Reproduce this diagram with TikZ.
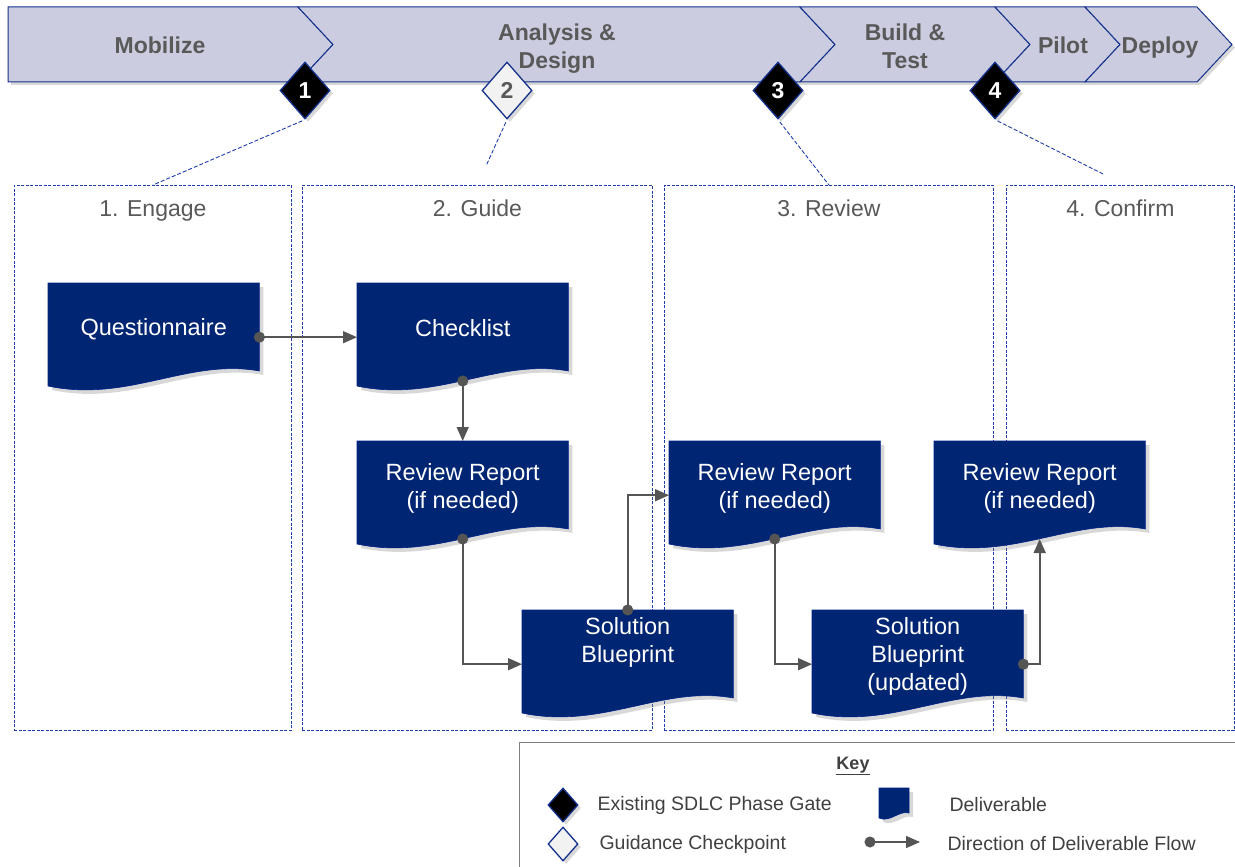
\documentclass[tikz,border=0pt]{standalone}
\usepackage{fontspec}
\setmainfont{Liberation Sans}
\usetikzlibrary{calc,shapes.geometric,arrows.meta,shadows}

\definecolor{chevfill}{RGB}{204,204,224}
\definecolor{navyline}{RGB}{20,50,140}
\definecolor{docblue}{RGB}{0,38,115}
\definecolor{dashblue}{RGB}{30,60,170}
\definecolor{txtgrey}{RGB}{89,89,89}
\definecolor{flowgrey}{RGB}{85,85,85}
\definecolor{keygrey}{RGB}{64,64,64}
\definecolor{ckfill}{RGB}{242,242,242}

\tikzset{
  shade/.style={drop shadow={shadow xshift=3pt,shadow yshift=-3pt,opacity=0.3}},
  chev/.style={fill=chevfill, draw=navyline, line width=1pt, shade},
  chevtext/.style={text=txtgrey, align=center, font=\fontsize{23}{28}\selectfont\bfseries},
  gate/.style={diamond, draw=navyline, line width=1.3pt, fill=black, text=white, inner sep=0pt,
    minimum width=50pt, minimum height=57pt, font=\fontsize{23}{23}\selectfont\bfseries, shade},
  checkpt/.style={gate, fill=ckfill, text=txtgrey},
  phasebox/.style={draw=dashblue, dash pattern=on 3pt off 1.5pt, line width=0.9pt,
    anchor=north west, inner sep=0pt, minimum height=545pt},
  phasetitle/.style={text=txtgrey, anchor=base, font=\fontsize{23}{26}\selectfont},
  link/.style={draw=dashblue, dash pattern=on 4pt off 2pt, line width=0.9pt, shorten <=3pt},
  docbox/.style={anchor=north west, inner sep=0pt, minimum width=211pt, minimum height=108pt},
  docfill/.style={fill=docblue, draw=docblue!85!blue, line width=0.6pt,
    drop shadow={shadow xshift=4pt,shadow yshift=-4pt,opacity=0.3}},
  doctext/.style={text=white, align=center, font=\fontsize{23.5}{28}\selectfont},
  flow/.style={draw=flowgrey, line width=1.6pt, shorten <=-5.5pt,
    {Circle[length=11pt]}-{Triangle[length=14pt,width=12pt]}},
  keytext/.style={text=keygrey, anchor=west, font=\fontsize{19.5}{22}\selectfont},
}

% deliverable: name, x, y, text drop, text
\newcommand\deliv[5]{%
  \node[docbox] (#1) at (#2,#3) {};
  \path[docfill] (#1.north west) -- (#1.north east) -- ++(0,88)
    .. controls +(-71,-13) and +(80,17) .. ($(#1.north west)+(0,103)$) -- cycle;
  \coordinate (#1-b) at ($(#1.north)+(0,98)$);
  \node[doctext] (#1-t) at ($(#1.north)+(0,#4)$) {#5};
}

\begin{document}
\begin{tikzpicture}[x=1pt,y=-1pt]
\useasboundingbox (0,0) rectangle (1235,867);
\fill[white] (0,0) rectangle (1235,867);

\draw[chev] (8,7) -- (298,7) -- (333,44.5) -- (298,82) -- (8,82) -- cycle;
\foreach \l/\r in {298/800, 800/995, 995/1085, 1085/1197}
  \draw[chev] (\l,7) -- (\r,7) -- (\r+35,44.5) -- (\r,82) -- (\l,82) -- (\l+35,44.5) -- cycle;
\node[chevtext, anchor=base] (mob) at (160,54) {Mobilize};
\node[chevtext] (ana) at (557,49) {Analysis \&\\Design};
\node[chevtext] (bld) at (905,46) {Build \&\\Test};
\node[chevtext, anchor=base] (pil) at (1063,54) {Pilot};
\node[chevtext, anchor=base] (dep) at (1160,54) {Deploy};

\node[gate] (g1) at (305,90.5) {1};
\node[checkpt] (g2) at (507,90.5) {2};
\node[gate] (g3) at (778,90.5) {3};
\node[gate] (g4) at (995,90.5) {4};

\foreach \n/\x/\w/\t in {engage/14/277/{1. Engage}, guide/302/350/{2. Guide},
    review/664/329/{3. Review}, confirm/1006/228/{4. Confirm}}{
  \node[phasebox, minimum width=\w] (\n) at (\x,185) {};
  \node[phasetitle] (\n-t) at ($(\n.north)+(0,31)$) {\t};
}

\coordinate (g2end) at (486,166);
\coordinate (g4end) at (1103,174);
\draw[link] (g1.south) -- (engage.north);
\draw[link] (g2.south) -- (g2end);
\draw[link] (g3.south) -- (review.north);
\draw[link] (g4.south) -- (g4end);

\deliv{quest}{48}{283}{46}{Questionnaire}
\deliv{check}{357}{283}{45}{Checklist}
\deliv{rrg}{357}{441}{47}{Review Report\\(if needed)}
\deliv{sbg}{522}{610}{32}{Solution\\Blueprint}
\deliv{rrr}{669}{441}{47}{Review Report\\(if needed)}
\deliv{sbr}{812}{610}{46}{Solution\\Blueprint\\(updated)}
\deliv{rrc}{934}{441}{47}{Review Report\\(if needed)}

\draw[flow] (quest.east) -- (check.west);
\draw[flow] (check-b) -- (rrg.north);
\draw[flow] (rrg-b) |- (sbg.west);
\draw[flow] (sbg.north) |- (rrr.west);
\draw[flow] (rrr-b) |- (sbr.west);
\draw[flow] (sbr.east) -| (rrc-b);

\node[draw=gray, line width=1.2pt, fill=white, anchor=north west, minimum width=716pt,
  minimum height=150pt, shade] (key) at (519,742) {};
\node[text=keygrey, font=\fontsize{18}{20}\selectfont\bfseries] (keyhead) at (853,766) {\underline{Key}};
\node[gate, minimum width=30pt, minimum height=34pt] (kgate) at (563,805) {};
\node[checkpt, minimum width=30pt, minimum height=34pt] (kcheck) at (563,844) {};
\node[keytext] (kgate-t) at (594,805) {Existing SDLC Phase Gate};
\node[keytext] (kcheck-t) at (596,844) {Guidance Checkpoint};
\fill[docfill] (879,788) -- (909,788) -- (909,813) .. controls (899,810) and (890,823) .. (879,818) -- cycle;
\node[keytext] (kdoc-t) at (946,805) {Deliverable};
\coordinate (kflow-a) at (870,842);
\coordinate (kflow-b) at (920,842);
\draw[flow, line width=1.3pt] (kflow-a) -- (kflow-b);
\node[keytext] (kflow-t) at (944,844) {Direction of Deliverable Flow};
\end{tikzpicture}
\end{document}
